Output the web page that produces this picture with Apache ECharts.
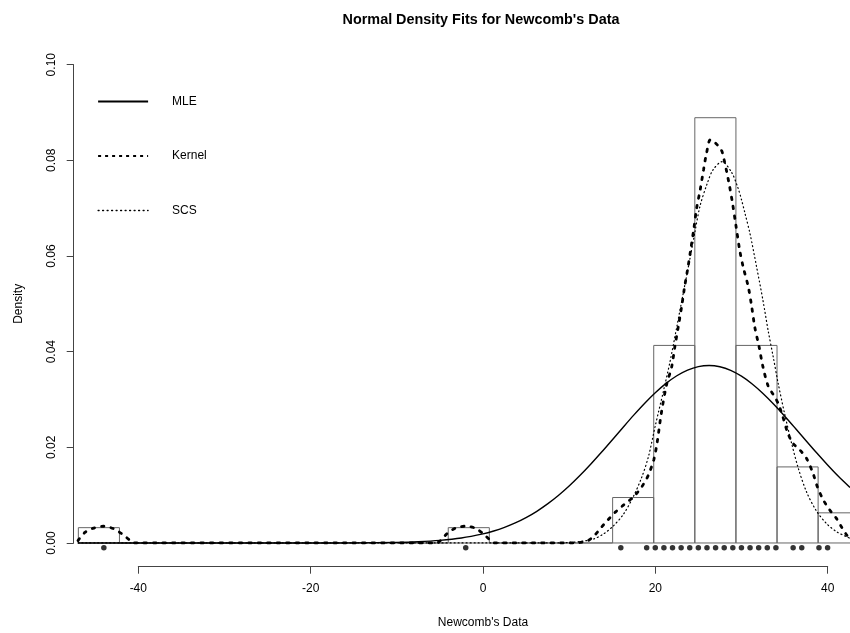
<!DOCTYPE html>
<html>
<head>
<meta charset="utf-8">
<script src="https://cdn.jsdelivr.net/npm/echarts@6/dist/echarts.min.js"></script>
<style>
  html, body { margin: 0; padding: 0; background: #fff; }
  #chart { width: 850px; height: 633px; }
</style>
</head>
<body>
<div id="chart"></div>
<script>
// histogram breaks and bar heights (density)
var breaks = [-46.96, -42.19, -37.42, -32.65, -27.88, -23.11, -18.34, -13.57, -8.80, -4.03,
  0.74, 5.51, 10.28, 15.05, 19.82, 24.59, 29.36, 34.13, 38.90, 43.67];
var heights = [0.0032, 0, 0, 0, 0, 0, 0, 0, 0, 0.0032, 0, 0, 0, 0.0095, 0.0413, 0.0889, 0.0413, 0.0159, 0.0063];

// observed values (rug)
var rugX = [-44, -2, 16, 19, 20, 21, 22, 23, 24, 25, 26, 27, 28, 29, 30, 31, 32, 33, 34, 36, 37, 39, 40];

// MLE normal fit
var mleCurve = [[-47, 0], [-30, 0], [-20, 0], [-15, 0.00002], [-10, 0.00013], [-7.5, 0.00027],
  [-5, 0.00055], [-2.5, 0.00105], [0, 0.0019], [1.25, 0.0025], [2.5, 0.00326], [3.75, 0.00418],
  [5, 0.0053], [6.25, 0.00662], [7.5, 0.00816], [8.75, 0.00992], [10, 0.0119], [11.25, 0.01409],
  [12.5, 0.01645], [13.75, 0.01895], [15, 0.02154], [16.25, 0.02415], [17.5, 0.02672],
  [18.75, 0.02916], [20, 0.0314], [21.25, 0.03336], [22.5, 0.03496], [23.75, 0.03614],
  [25, 0.03687], [26.25, 0.0371], [27.5, 0.03683], [28.75, 0.03608], [30, 0.03486],
  [31.25, 0.03324], [32.5, 0.03126], [33.75, 0.02901], [35, 0.02656], [36.25, 0.02399],
  [37.5, 0.02137], [38.75, 0.01879], [40, 0.0163], [41.25, 0.01394], [42.6, 0.0116]];

// kernel density
var kernelCurve = [[-47.0, 0.0005], [-46.2, 0.0022], [-45.2, 0.0031], [-44.05, 0.0035], [-42.9, 0.003],
  [-41.9, 0.0019], [-41.0, 0.0006], [-40.5, 0], [-20, 0], [-5.4, 0], [-5.0, 0.0004], [-4.2, 0.0019],
  [-3.2, 0.0031], [-2.05, 0.0035], [-0.9, 0.0031], [0.05, 0.0019], [0.85, 0.0006], [1.4, 0],
  [6, 0], [10.8, 0], [11.25, 0.0001], [12.2, 0.0005], [13.0, 0.0017], [13.8, 0.0034], [14.5, 0.0048],
  [15.4, 0.0065], [16.3, 0.0079], [17.25, 0.0093], [18.0, 0.0107], [18.6, 0.0122], [19.2, 0.0142],
  [19.84, 0.0175], [20.2, 0.0208], [20.7, 0.0271], [21.3, 0.033], [21.9, 0.0368], [22.27, 0.041],
  [22.66, 0.0451], [23.05, 0.0493], [23.4, 0.0535], [23.8, 0.0577], [24.1, 0.0612], [24.5, 0.066],
  [24.8, 0.0700], [25.2, 0.0737], [25.6, 0.078], [25.95, 0.0815], [26.4, 0.0843], [27.0, 0.0836],
  [27.7, 0.082], [28.0, 0.08], [28.3, 0.0775], [28.6, 0.0748], [28.95, 0.0712], [29.35, 0.0665],
  [29.8, 0.0612], [30.2, 0.0577], [30.8, 0.0535], [31.2, 0.0493], [31.55, 0.0451], [32.05, 0.041],
  [32.5, 0.0368], [33.1, 0.0328], [33.7, 0.031], [34.26, 0.0292], [34.8, 0.0264], [35.4, 0.0229],
  [36.0, 0.0208], [36.8, 0.0194], [37.55, 0.0177], [38.3, 0.0146], [38.8, 0.0118], [39.5, 0.009],
  [40.25, 0.0069], [41.0, 0.0052], [41.6, 0.0034], [42.2, 0.0017], [42.6, 0.001]];

// SCS fit
var scsCurve = [[-47, 0], [-20, 0], [0, 0], [8, 0], [10, 0.0001], [11.25, 0.0003], [12.8, 0.0008],
  [14.0, 0.0019], [15.1, 0.0035], [16.3, 0.006], [17.4, 0.0095], [18.4, 0.0136], [19.2, 0.018],
  [20.0, 0.0245], [20.9, 0.0314], [21.7, 0.0378], [22.5, 0.0452], [23.2, 0.0518], [24.0, 0.0592],
  [24.6, 0.065], [25.2, 0.0705], [26.0, 0.075], [26.7, 0.078], [27.75, 0.0797], [28.85, 0.0775],
  [29.6, 0.0742], [30.0, 0.0718], [30.4, 0.069], [31.0, 0.0646], [31.75, 0.0578], [32.5, 0.0507],
  [33.1, 0.0444], [33.7, 0.0388], [34.26, 0.0334], [35.0, 0.0271], [35.8, 0.021], [36.6, 0.0156],
  [37.55, 0.0107], [38.7, 0.0067], [39.9, 0.004], [41.0, 0.0024], [42.2, 0.0013], [42.6, 0.001]];

var FONT = "'Liberation Sans', Arial, Helvetica, sans-serif";

var chart = echarts.init(document.getElementById("chart"));

var bins = [];
for (var i = 0; i < heights.length; i++) {
  bins.push([breaks[i], breaks[i + 1], heights[i]]);
}

var option = {
  animation: false,
  backgroundColor: "#fff",
  color: ["#000"],
  textStyle: { fontFamily: FONT, color: "#000" },
  title: {
    text: "Normal Density Fits for Newcomb's Data",
    left: 476,
    top: 8,
    textAlign: "center",
    textStyle: { fontFamily: FONT, fontSize: 14.4, fontWeight: "bold", color: "#000" }
  },
  legend: {
    orient: "vertical",
    left: 97,
    top: 95.5,
    padding: 0,
    itemWidth: 50,
    itemHeight: 14,
    itemGap: 42.5,
    itemStyle: { opacity: 0 },
    textStyle: { fontFamily: FONT, fontSize: 12, color: "#000", padding: [0, 0, 0, 19] },
    data: [
      { name: "MLE" },
      { name: "Kernel", lineStyle: { width: 2.2, type: [3, 4], cap: "butt" } },
      { name: "SCS", lineStyle: { width: 1.3, type: [1, 3.5], cap: "round" } }
    ]
  },
  grid: [
    { left: 73.7, right: 0, top: 45, bottom: 66.3 },
    { left: 73.7, width: 10, top: 64.7, bottom: 90 },
    { left: 138.3, right: 22.3, top: 400, bottom: 66.3 }
  ],
  xAxis: [
    { gridIndex: 0, type: "value", min: -47.5, max: 42.6, show: false },
    { gridIndex: 1, type: "value", min: 0, max: 1, show: false },
    {
      gridIndex: 2, type: "value", min: -40, max: 40, interval: 20,
      name: "Newcomb's Data", nameLocation: "middle", nameGap: 50,
      nameTextStyle: { fontFamily: FONT, fontSize: 12, color: "#000" },
      axisLine: { show: true, lineStyle: { color: "#444", width: 1 } },
      axisTick: { show: true, length: 7, lineStyle: { color: "#444" } },
      axisLabel: { margin: 16, fontFamily: FONT, fontSize: 12, color: "#000" },
      splitLine: { show: false }
    }
  ],
  yAxis: [
    { gridIndex: 0, type: "value", min: -0.00496, max: 0.1041, show: false },
    {
      gridIndex: 1, type: "value", min: 0, max: 0.1, interval: 0.02,
      name: "Density", nameLocation: "middle", nameGap: 49, nameRotate: 90,
      nameTextStyle: { fontFamily: FONT, fontSize: 12, color: "#000" },
      axisLine: { show: true, lineStyle: { color: "#444", width: 1 } },
      axisTick: { show: true, length: 7, lineStyle: { color: "#444" } },
      axisLabel: {
        rotate: 90, margin: 16, fontFamily: FONT, fontSize: 12, color: "#000",
        formatter: function (v) { return v.toFixed(2); }
      },
      splitLine: { show: false }
    },
    { gridIndex: 2, type: "value", min: 0, max: 1, show: false }
  ],
  series: [
    {
      type: "custom",
      xAxisIndex: 0,
      yAxisIndex: 0,
      data: bins,
      renderItem: function (params, api) {
        var p0 = api.coord([api.value(0), api.value(2)]);
        var p1 = api.coord([api.value(1), 0]);
        return {
          type: "rect",
          shape: { x: p0[0], y: p0[1], width: p1[0] - p0[0], height: p1[1] - p0[1] },
          style: { fill: null, stroke: "#666", lineWidth: 1 }
        };
      },
      silent: true,
      z: 1
    },
    {
      name: "MLE",
      type: "line",
      xAxisIndex: 0,
      yAxisIndex: 0,
      data: mleCurve,
      showSymbol: false,
      symbol: "none",
      smooth: 0.3,
      itemStyle: { color: "#000" },
      lineStyle: { color: "#000", width: 1.4, type: "solid" },
      z: 3
    },
    {
      name: "Kernel",
      type: "line",
      xAxisIndex: 0,
      yAxisIndex: 0,
      data: kernelCurve,
      showSymbol: false,
      symbol: "none",
      smooth: 0.3,
      itemStyle: { color: "#000" },
      lineStyle: { color: "#000", width: 2.8, type: [2.5, 7], cap: "round" },
      z: 4
    },
    {
      name: "SCS",
      type: "line",
      xAxisIndex: 0,
      yAxisIndex: 0,
      data: scsCurve,
      showSymbol: false,
      symbol: "none",
      smooth: 0.3,
      itemStyle: { color: "#000" },
      lineStyle: { color: "#000", width: 1.2, type: [1, 3], cap: "round" },
      z: 3
    },
    {
      type: "scatter",
      xAxisIndex: 0,
      yAxisIndex: 0,
      data: rugX.map(function (x) { return [x, -0.001]; }),
      symbol: "circle",
      symbolSize: 5.5,
      itemStyle: { color: "#000" },
      silent: true,
      z: 5
    }
  ]
};

chart.setOption(option);
</script>
</body>
</html>
